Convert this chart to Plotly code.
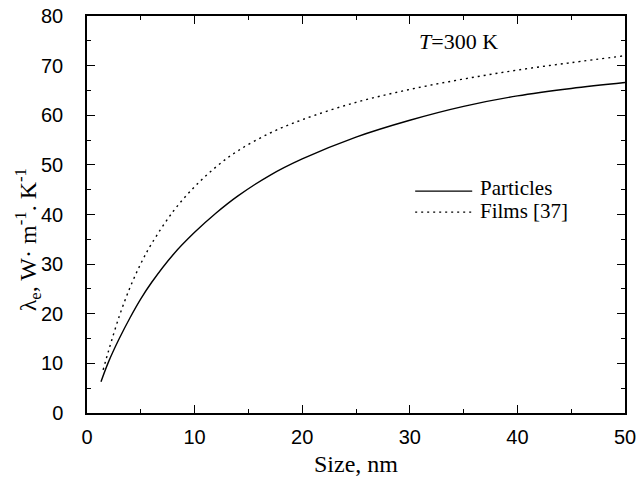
import plotly.graph_objects as go

# Data
particles_x = [1.3, 2, 3, 4, 5, 6, 8, 10, 12, 14, 17, 20, 25, 30, 35, 40, 45, 50]
particles_y = [6.3, 10.3, 15.0, 19.2, 23.0, 26.3, 31.9, 36.4, 40.3, 43.7, 47.9, 51.2, 55.6, 59.0, 61.8, 63.9, 65.4, 66.6]

films_x = [1.5, 2, 3, 4, 5, 6, 8, 10, 12, 14, 17, 20, 25, 30, 35, 40, 45, 50]
films_y = [8.7, 12.5, 19.5, 25.3, 30.1, 34.1, 40.6, 45.6, 49.6, 52.8, 56.4, 59.1, 62.6, 65.2, 67.3, 69.1, 70.6, 72.0]

series_names = ["Particles", "Films [37]"]
x_ticks = [0, 10, 20, 30, 40, 50]
y_ticks = [0, 10, 20, 30, 40, 50, 60, 70, 80]

serif = "Liberation Serif, Times New Roman, serif"
sans = "Liberation Sans, Arial, sans-serif"

fig = go.Figure()
fig.add_trace(go.Scatter(x=particles_x, y=particles_y, mode="lines", name=series_names[0],
                         line=dict(color="black", width=1.4, shape="spline", smoothing=1.0)))
fig.add_trace(go.Scatter(x=films_x, y=films_y, mode="lines", name=series_names[1],
                         line=dict(color="black", width=1.4, dash="2px,4px", shape="spline", smoothing=1.0)))

axis_common = dict(
    showgrid=False, zeroline=False, showline=True, linecolor="black", linewidth=1.5,
    mirror="allticks", ticks="inside", ticklen=8, tickwidth=1.2, tickcolor="black",
    tickfont=dict(family=sans, size=20, color="black"), automargin=False,
    ticklabeloverflow="allow",
)

fig.update_xaxes(range=[0, 50], tickvals=x_ticks,
                 minor=dict(ticks="inside", ticklen=4, dtick=5, tickcolor="black", tickwidth=1),
                 title=dict(text="Size, nm", font=dict(family=serif, size=24, color="black"), standoff=8),
                 ticklabelstandoff=5, **axis_common)
fig.update_yaxes(range=[0, 80], tickvals=y_ticks,
                 minor=dict(ticks="inside", ticklen=4, dtick=5, tickcolor="black", tickwidth=1),
                 ticklabelstandoff=18, **axis_common)

# y-axis title placed as an annotation to match the reference position
fig.add_annotation(x=-0.11, y=0.437, xref="paper", yref="paper", xanchor="center", yanchor="middle",
                   text="λ<sub>e</sub>, W· m<sup>-1</sup>. K<sup>-1</sup>", textangle=-90, showarrow=False,
                   font=dict(family=serif, size=24, color="black"))

fig.add_annotation(x=0.613, y=0.935, xref="paper", yref="paper", xanchor="left", yanchor="middle",
                   text="<i>T</i>=300 K", showarrow=False,
                   font=dict(family=serif, size=22, color="black"))

# Manual legend (line samples + labels)
legend_rows = [(0.559, 0.567, None), (0.506, 0.509, "2px,4px")]
for name, (ly, ty, dash) in zip(series_names, legend_rows):
    fig.add_shape(type="line", xref="paper", yref="paper", x0=0.610, x1=0.716, y0=ly, y1=ly,
                  line=dict(color="black", width=1.4, dash=dash if dash else "solid"))
    fig.add_annotation(x=0.727, y=ty, xref="paper", yref="paper", xanchor="left", yanchor="middle",
                       text=name, showarrow=False, font=dict(family=serif, size=21, color="black"))

fig.update_layout(
    width=636, height=483,
    margin=dict(l=87, r=11, t=16, b=70),
    paper_bgcolor="white", plot_bgcolor="white",
    showlegend=False,
)

fig.write_html("out.html")
